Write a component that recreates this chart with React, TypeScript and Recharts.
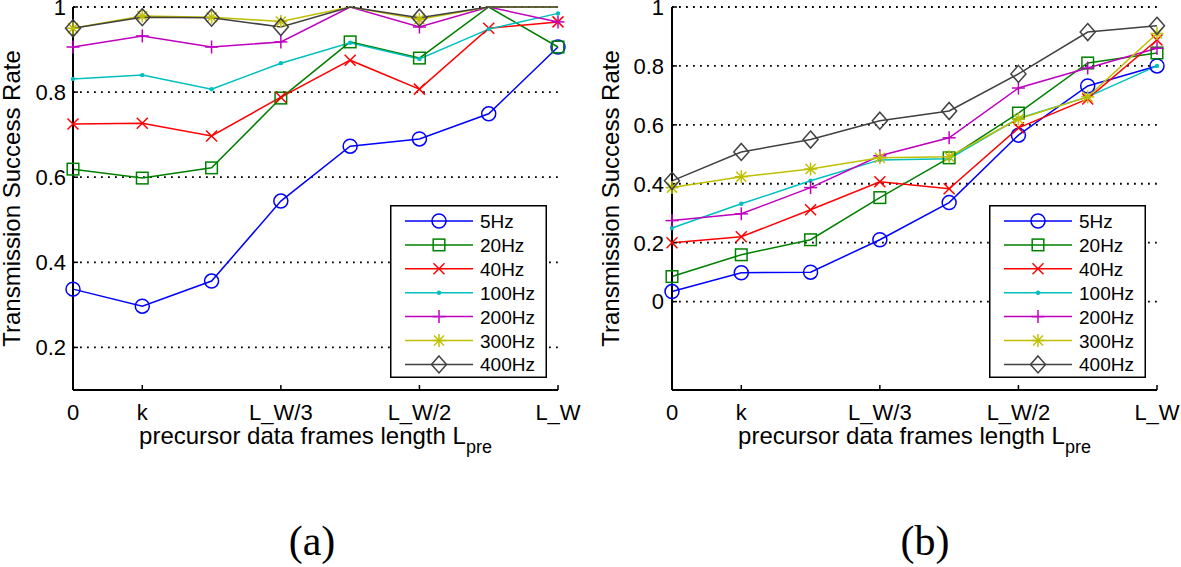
import React from 'react';
import { LineChart, Line, XAxis, YAxis, CartesianGrid, Legend, Label } from 'recharts';

const FONT = '"Liberation Sans", Arial, Helvetica, sans-serif';

// x positions of the 8 measured frame lengths and the labelled ticks
const xPositions = [0, 1, 2, 3, 4, 5, 6, 7];
const xTickValues = [0, 1, 3, 5, 7];
const xTickLabels = ['0', 'k', 'L_W/3', 'L_W/2', 'L_W'];

const seriesNames = ['5Hz', '20Hz', '40Hz', '100Hz', '200Hz', '300Hz', '400Hz'];
const seriesColors = ['#0000ff', '#008000', '#ff0000', '#00bfbf', '#bf00bf', '#bfbf00', '#404040'];
const seriesMarkers = ['circle', 'square', 'x', 'point', 'plus', 'star', 'diamond'];

// panel (a)
const a5Hz = [0.337, 0.297, 0.356, 0.544, 0.673, 0.69, 0.749, 0.906];
const a20Hz = [0.619, 0.598, 0.622, 0.786, 0.918, 0.88, 1.0, 0.906];
const a40Hz = [0.725, 0.727, 0.697, 0.788, 0.875, 0.807, 0.95, 0.965];
const a100Hz = [0.831, 0.84, 0.807, 0.868, 0.916, 0.878, 0.948, 0.985];
const a200Hz = [0.906, 0.932, 0.906, 0.918, 1.0, 0.953, 1.0, 0.965];
const a300Hz = [0.95, 0.979, 0.976, 0.966, 1.0, 0.971, 1.0, 1.0];
const a400Hz = [0.95, 0.976, 0.975, 0.953, 1.0, 0.975, 1.0, 1.0];

// panel (b)
const b5Hz = [0.034, 0.098, 0.1, 0.21, 0.336, 0.565, 0.732, 0.8];
const b20Hz = [0.085, 0.159, 0.21, 0.353, 0.488, 0.64, 0.81, 0.844];
const b40Hz = [0.2, 0.22, 0.312, 0.407, 0.383, 0.59, 0.688, 0.888];
const b100Hz = [0.25, 0.332, 0.41, 0.481, 0.485, 0.622, 0.695, 0.8];
const b200Hz = [0.275, 0.298, 0.387, 0.495, 0.556, 0.725, 0.793, 0.86];
const b300Hz = [0.387, 0.424, 0.45, 0.488, 0.492, 0.62, 0.695, 0.91];
const b400Hz = [0.41, 0.508, 0.55, 0.614, 0.647, 0.773, 0.915, 0.936];

const aYTicks = [0.2, 0.4, 0.6, 0.8, 1];
const bYTicks = [0, 0.2, 0.4, 0.6, 0.8, 1];
const aYDomain = [0.1, 1];
const bYDomain = [-0.3, 1];

const buildRows = (series: number[][]) =>
  xPositions.map((x, i) => {
    const row: any = { x };
    series.forEach((s, k) => {
      row[`s${k}`] = s[i];
    });
    return row;
  });

const rowsA = buildRows([a5Hz, a20Hz, a40Hz, a100Hz, a200Hz, a300Hz, a400Hz]);
const rowsB = buildRows([b5Hz, b20Hz, b40Hz, b100Hz, b200Hz, b300Hz, b400Hz]);

function Marker({ shape, color, cx, cy }: { shape: string; color: string; cx: number; cy: number }) {
  const sw = 1.5;
  switch (shape) {
    case 'circle':
      return <circle cx={cx} cy={cy} r={7} fill="none" stroke={color} strokeWidth={sw} />;
    case 'square':
      return <rect x={cx - 5.8} y={cy - 5.8} width={11.6} height={11.6} fill="none" stroke={color} strokeWidth={sw} />;
    case 'x':
      return (
        <g stroke={color} strokeWidth={sw}>
          <line x1={cx - 5.5} y1={cy - 5.5} x2={cx + 5.5} y2={cy + 5.5} />
          <line x1={cx - 5.5} y1={cy + 5.5} x2={cx + 5.5} y2={cy - 5.5} />
        </g>
      );
    case 'point':
      return <circle cx={cx} cy={cy} r={2.2} fill={color} stroke="none" />;
    case 'plus':
      return (
        <g stroke={color} strokeWidth={sw}>
          <line x1={cx - 6.5} y1={cy} x2={cx + 6.5} y2={cy} />
          <line x1={cx} y1={cy - 6.5} x2={cx} y2={cy + 6.5} />
        </g>
      );
    case 'star':
      return (
        <g stroke={color} strokeWidth={sw}>
          <line x1={cx - 6.5} y1={cy} x2={cx + 6.5} y2={cy} />
          <line x1={cx} y1={cy - 6.5} x2={cx} y2={cy + 6.5} />
          <line x1={cx - 5} y1={cy - 5} x2={cx + 5} y2={cy + 5} />
          <line x1={cx - 5} y1={cy + 5} x2={cx + 5} y2={cy - 5} />
        </g>
      );
    case 'diamond':
      return (
        <polygon
          points={`${cx},${cy - 8.5} ${cx + 7.5},${cy} ${cx},${cy + 8.5} ${cx - 7.5},${cy}`}
          fill="none"
          stroke={color}
          strokeWidth={sw}
        />
      );
    default:
      return null;
  }
}

const makeDot = (k: number, yMax: number) => (props: any) => {
  const { cx, cy, index, payload } = props;
  const key = `dot-${k}-${index}`;
  const v = payload ? payload[`s${k}`] : undefined;
  if (cx == null || cy == null || v == null || v >= yMax) return <g key={key} />;
  return (
    <g key={key}>
      <Marker shape={seriesMarkers[k]} color={seriesColors[k]} cx={cx} cy={cy} />
    </g>
  );
};

const renderLegend = () => {
  const w = 157;
  const h = 173;
  return (
    <svg width={w} height={h} style={{ display: 'block' }}>
      <rect x={0.75} y={0.75} width={w - 1.5} height={h - 1.5} fill="#fff" stroke="#000" strokeWidth={1.5} />
      {seriesNames.map((name, i) => {
        const y = 16 + i * 23.9;
        return (
          <g key={name}>
            <line x1={15} y1={y} x2={83} y2={y} stroke={seriesColors[i]} strokeWidth={1.5} />
            <Marker shape={seriesMarkers[i]} color={seriesColors[i]} cx={49} cy={y} />
            <text x={90} y={y + 7} fontSize={19} fontFamily={FONT} fill="#000">
              {name}
            </text>
          </g>
        );
      })}
    </svg>
  );
};

type PanelProps = {
  rows: any[];
  yDomain: number[];
  yTicks: number[];
  tag: string;
  tagX: number;
  left: number;
  width: number;
  marginRight: number;
  yTickMargin: number;
};

function Panel({ rows, yDomain, yTicks, tag, tagX, left, width, marginRight, yTickMargin }: PanelProps) {
  const axisLine = { stroke: '#000', strokeWidth: 2 };
  const tickLine = { stroke: '#000', strokeWidth: 1.5 };
  const yMax = yDomain[1];
  return (
    <div style={{ position: 'absolute', left, top: 0 }}>
      <LineChart width={width} height={567} data={rows} margin={{ top: 7, right: marginRight, bottom: 0, left: 0 }}>
        <CartesianGrid vertical={false} stroke="#000" strokeWidth={1.8} strokeDasharray="1.8 5.2" />
        <XAxis
          dataKey="x"
          type="number"
          domain={[0, 7]}
          ticks={xTickValues}
          interval={0}
          tickFormatter={(v: number) => {
            const i = xTickValues.indexOf(v);
            return i >= 0 ? xTickLabels[i] : '';
          }}
          height={177}
          tickSize={-5}
          tickMargin={19}
          axisLine={axisLine}
          tickLine={tickLine}
          tick={{ fill: '#000', fontSize: 22, fontFamily: FONT }}
        >
          <Label
            content={(p: any) => {
              const vb = p.viewBox || { x: 73, width: 485 };
              const cx = vb.x + vb.width / 2;
              return (
                <g>
                  <text x={cx} y={444} textAnchor="middle" fontSize={24} fontFamily={FONT} fill="#000">
                    precursor data frames length L
                    <tspan fontSize={18} dy={9}>
                      pre
                    </tspan>
                  </text>
                  <text x={tagX} y={555} textAnchor="middle" fontSize={42} fontFamily='"Liberation Serif", "DejaVu Serif", serif' fill="#000">
                    {tag}
                  </text>
                </g>
              );
            }}
          />
        </XAxis>
        <XAxis
          xAxisId="top"
          orientation="top"
          dataKey="x"
          type="number"
          domain={[0, 7]}
          ticks={xTickValues}
          interval={0}
          height={0}
          tick={false}
          tickSize={-5}
          axisLine={axisLine}
          tickLine={tickLine}
        />
        <YAxis
          type="number"
          domain={yDomain}
          ticks={yTicks}
          interval={0}
          width={73}
          tickSize={-5}
          tickMargin={yTickMargin}
          tickFormatter={(v: number) => String(+v.toFixed(1))}
          axisLine={axisLine}
          tickLine={tickLine}
          tick={{ fill: '#000', fontSize: 22, fontFamily: FONT }}
        >
          <Label
            content={(p: any) => {
              const vb = p.viewBox || { y: 7, height: 383 };
              const cy = vb.y + vb.height / 2;
              return (
                <text
                  x={19.5}
                  y={cy}
                  transform={`rotate(-90, 19.5, ${cy})`}
                  textAnchor="middle"
                  fontSize={24}
                  fontFamily={FONT}
                  fill="#000"
                >
                  Transmission Success Rate
                </text>
              );
            }}
          />
        </YAxis>
        <YAxis
          yAxisId="right"
          orientation="right"
          type="number"
          domain={yDomain}
          ticks={yTicks}
          interval={0}
          width={0}
          tick={false}
          tickSize={-5}
          axisLine={axisLine}
          tickLine={tickLine}
        />
        <Legend
          layout="vertical"
          align="center"
          verticalAlign="middle"
          wrapperStyle={{ left: 390, top: 205, width: 157, height: 173 }}
          content={renderLegend}
        />
        {seriesNames.map((name, k) => (
          <Line
            key={name}
            name={name}
            dataKey={`s${k}`}
            stroke={seriesColors[k]}
            strokeWidth={1.5}
            dot={makeDot(k, yMax)}
            activeDot={false}
            isAnimationActive={false}
          />
        ))}
      </LineChart>
    </div>
  );
}

export default function App() {
  return (
    <div style={{ position: 'relative', width: 1181, height: 567, background: '#fff', overflow: 'hidden' }}>
      <style>{'body{margin:0;}'}</style>
      <Panel
        rows={rowsA}
        yDomain={aYDomain}
        yTicks={aYTicks}
        tag="(a)"
        tagX={312}
        left={0}
        width={590}
        marginRight={32}
        yTickMargin={12}
      />
      <Panel
        rows={rowsB}
        yDomain={bYDomain}
        yTicks={bYTicks}
        tag="(b)"
        tagX={326}
        left={599}
        width={582}
        marginRight={24}
        yTickMargin={13}
      />
    </div>
  );
}
